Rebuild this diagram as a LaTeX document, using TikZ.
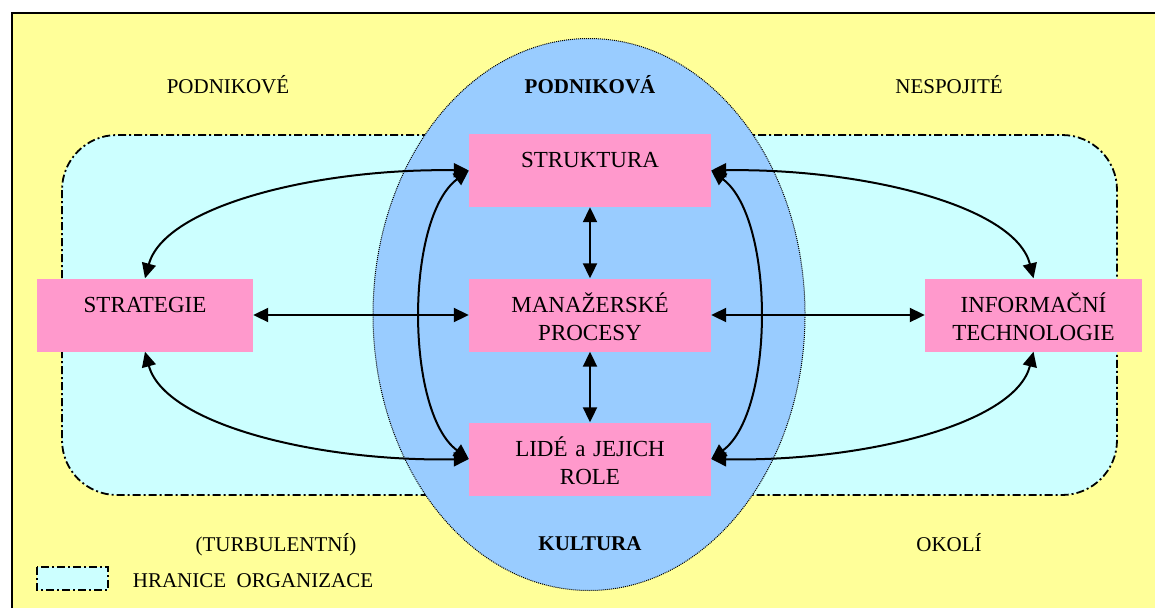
\documentclass[tikz,border=0pt]{standalone}
\usepackage{fontspec}
\setmainfont{Liberation Serif}
\usetikzlibrary{arrows.meta}
\definecolor{bgyellow}{HTML}{FFFF99}
\definecolor{orgcyan}{HTML}{CCFFFF}
\definecolor{culture}{HTML}{99CCFF}
\definecolor{unitpink}{HTML}{FF99CC}
\begin{document}
\begin{tikzpicture}[x=1pt,y=-1pt,
  unit/.style={fill=unitpink, inner xsep=0pt, inner ysep=0pt, align=center,
    text height=33.5pt, text depth=39.5pt, font=\fontsize{23}{28}\selectfont},
  lbl/.style={anchor=base, font=\fontsize{21}{25}\selectfont},
  boldlbl/.style={anchor=base, font=\fontsize{21}{25}\selectfont\bfseries},
  link/.style={line width=2pt,
    {Triangle[length=15pt,width=14pt]}-{Triangle[length=15pt,width=14pt]}},
  orgborder/.style={line width=1.8pt, dash pattern=on 8pt off 3pt on 2pt off 3pt},
]
\useasboundingbox (0,0) rectangle (1155,608);
% page and frame
\fill[white] (0,0) rectangle (1155,608);
\fill[bgyellow] (12,13) rectangle (1155,608);
\draw[line width=2pt] (12,608) -- (12,13) -- (1155,13);

% organisation boundary
\draw[orgborder, fill=orgcyan, rounded corners=55pt] (62,135) rectangle (1117,495);

% corporate culture
\draw[fill=culture, line width=1pt, dash pattern=on 1pt off 1pt]
  (589,314.5) ellipse [x radius=216pt, y radius=276pt];

% environment and culture labels
\node[lbl] (envtl) at (228,93) {PODNIKOVÉ};
\node[boldlbl] (cultt) at (590,93) {PODNIKOVÁ};
\node[lbl] (envtr) at (949,93) {NESPOJITÉ};
\node[lbl] (envbl) at (276,551.5) {(TURBULENTNÍ)};
\node[boldlbl] (cultb) at (590,550) {KULTURA};
\node[lbl] (envbr) at (949,551) {OKOLÍ};

% legend
\draw[orgborder, fill=orgcyan] (37,567) rectangle (108,590);
\node[lbl] (legend) at (253,587.3) {HRANICE\ \ ORGANIZACE};

% units
\node[unit, text width=242pt] (struk) at (590,170.5) {STRUKTURA};
\node[unit, text width=242pt] (proc) at (590,315) {MANAŽERSKÉ\\PROCESY};
\node[unit, text width=242pt] (lide) at (590,459) {LIDÉ a JEJICH\\ROLE};
\node[unit, text width=216pt] (strat) at (145,315) {STRATEGIE};
\node[unit, text width=217pt] (info) at (1033.5,315) {INFORMAČNÍ\\TECHNOLOGIE};

% straight links
\draw[link] (struk) -- (proc);
\draw[link] (proc) -- (lide);
\draw[link] (strat) -- (proc);
\draw[link] (proc) -- (info);

% curved links
\draw[link] (strat.north) .. controls (165,205) and (320,168) .. (struk.west);
\draw[link] (strat.south) .. controls (165,425) and (320,462) .. (lide.west);
\draw[link] (info.north) .. controls (1015,205) and (860,168) .. (struk.east);
\draw[link] (info.south) .. controls (1015,425) and (860,462) .. (lide.east);
\draw[link] (struk.west) .. controls (405,218) and (405,412) .. (lide.west);
\draw[link] (struk.east) .. controls (775,218) and (775,412) .. (lide.east);
\end{tikzpicture}
\end{document}
